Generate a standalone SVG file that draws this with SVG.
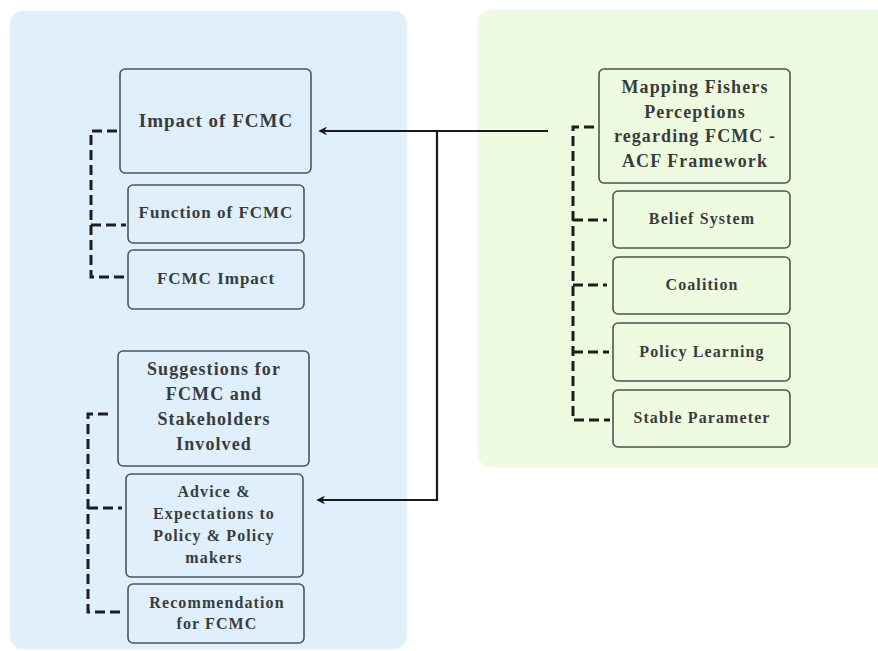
<svg xmlns="http://www.w3.org/2000/svg" width="878" height="651" viewBox="0 0 878 651">
<style>
.panelL{fill:#dff0fc;stroke:#eef6fb;stroke-width:1}
.panelR{fill:#effbe1;stroke:#f3f9ec;stroke-width:1}
.box{fill:none;stroke:#4e5553;stroke-width:1.6}
.t{font-family:"Liberation Serif","Times New Roman",serif;font-weight:bold;fill:#3a3c3c;text-anchor:middle;letter-spacing:1px}
.t19{font-size:19px}
.t18{font-size:18px;letter-spacing:1.1px}
.t17{font-size:17px}
.t16{font-size:16px;letter-spacing:1.1px}
.br{fill:none;stroke:#1e1e1e;stroke-width:3;stroke-dasharray:10 5}
.arw{fill:none;stroke:#1a1a1a;stroke-width:2.2}
</style>
<defs>
<marker id="ah" viewBox="0 0 10 10" refX="8" refY="5" markerWidth="4" markerHeight="4" orient="auto" markerUnits="strokeWidth">
<path d="M10,5 L0,0 L3,5 L0,10 Z" fill="#1a1a1a"/>
</marker>
</defs>
<rect width="878" height="651" fill="#ffffff"/>
<rect class="panelL" x="10" y="11" width="397" height="638" rx="13"/>
<rect class="panelR" x="478" y="10" width="412" height="457" rx="13"/>

<g id="connectors">
<path class="arw" d="M548,131 H320" marker-end="url(#ah)"/>
<path class="arw" d="M437,131 V500 H318" marker-end="url(#ah)"/>
<path class="br" d="M117,131 H91 V277 H126"/>
<path class="br" d="M91,225 H126"/>
<path class="br" d="M108,414 H88 V612 H122"/>
<path class="br" d="M88,508 H122"/>
<path class="br" d="M594,127 H573 V420 H610"/>
<path class="br" d="M573,220 H607"/>
<path class="br" d="M573,285 H607"/>
<path class="br" d="M573,352 H609"/>
</g>

<g id="impact-of-fcmc">
<rect class="box" x="120" y="69" width="191" height="104" rx="5"/>
<text class="t t19" x="216" y="127">Impact of FCMC</text>
</g>
<g id="function-of-fcmc">
<rect class="box" x="128" y="185" width="176" height="58" rx="5"/>
<text class="t t17" x="216" y="218">Function of FCMC</text>
</g>
<g id="fcmc-impact">
<rect class="box" x="128" y="250" width="176" height="59" rx="5"/>
<text class="t t17" x="216" y="284">FCMC Impact</text>
</g>
<g id="suggestions">
<rect class="box" x="118" y="351" width="191" height="115" rx="5"/>
<text class="t t18" x="214" y="375">Suggestions for</text>
<text class="t t18" x="214" y="400">FCMC and</text>
<text class="t t18" x="214" y="425">Stakeholders</text>
<text class="t t18" x="214" y="450">Involved</text>
</g>
<g id="advice">
<rect class="box" x="126" y="474" width="177" height="103" rx="5"/>
<text class="t t16" x="214" y="497">Advice &amp;</text>
<text class="t t16" x="214" y="519">Expectations to</text>
<text class="t t16" x="214" y="541">Policy &amp; Policy</text>
<text class="t t16" x="214" y="563">makers</text>
</g>
<g id="recommendation">
<rect class="box" x="128" y="584" width="176" height="59" rx="5"/>
<text class="t t16" x="217" y="608">Recommendation</text>
<text class="t t16" x="217" y="629">for FCMC</text>
</g>

<g id="mapping">
<rect class="box" x="599" y="69" width="191" height="114" rx="5"/>
<text class="t t18" x="695" y="93">Mapping Fishers</text>
<text class="t t18" x="695" y="118">Perceptions</text>
<text class="t t18" x="695" y="142">regarding FCMC -</text>
<text class="t t18" x="695" y="167">ACF Framework</text>
</g>
<g id="belief-system">
<rect class="box" x="613" y="191" width="177" height="57" rx="5"/>
<text class="t t16" x="702" y="224">Belief System</text>
</g>
<g id="coalition">
<rect class="box" x="613" y="257" width="177" height="57" rx="5"/>
<text class="t t16" x="702" y="290">Coalition</text>
</g>
<g id="policy-learning">
<rect class="box" x="613" y="323" width="177" height="58" rx="5"/>
<text class="t t16" x="702" y="357">Policy Learning</text>
</g>
<g id="stable-parameter">
<rect class="box" x="613" y="390" width="177" height="57" rx="5"/>
<text class="t t16" x="702" y="423">Stable Parameter</text>
</g>
</svg>
